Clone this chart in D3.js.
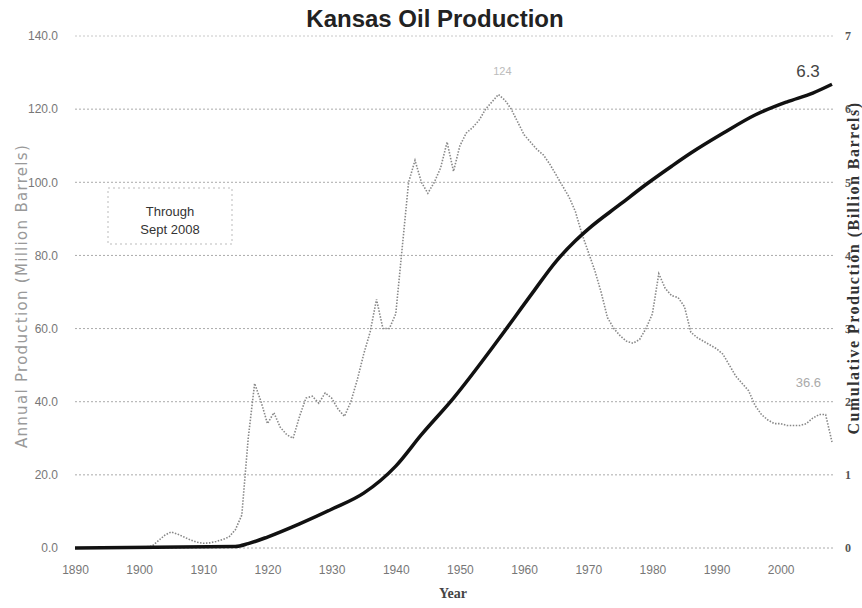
<!DOCTYPE html>
<html>
<head>
<meta charset="utf-8">
<script src="https://cdn.jsdelivr.net/npm/d3@7"></script>
<style>
  body { margin: 0; background: #fff; }
  svg { display: block; }
</style>
</head>
<body>
<svg id="chart" width="862" height="608"></svg>
<script>
// annual production, million barrels
var annualYears = [1890, 1900, 1902, 1904, 1905, 1906, 1907, 1908, 1909, 1910, 1911, 1912, 1913, 1914, 1915, 1916,
    1917, 1918, 1919, 1920, 1921, 1922, 1923, 1924, 1925, 1926, 1927, 1928, 1929, 1930, 1931, 1932, 1933, 1934,
    1935, 1936, 1937, 1938, 1939, 1940, 1941, 1942, 1943, 1944, 1945, 1946, 1947, 1948, 1949, 1950, 1951, 1952,
    1953, 1954, 1955, 1956, 1957, 1958, 1959, 1960, 1961, 1962, 1963, 1964, 1965, 1966, 1967, 1968, 1969, 1970,
    1971, 1972, 1973, 1974, 1975, 1976, 1977, 1978, 1979, 1980, 1981, 1982, 1983, 1984, 1985, 1986, 1987, 1988,
    1989, 1990, 1991, 1992, 1993, 1994, 1995, 1996, 1997, 1998, 1999, 2000, 2001, 2002, 2003, 2004, 2005, 2006,
    2007, 2008];
var annualValues = [0, 0.1, 0.5, 3.5, 4.4, 3.8, 3.0, 2.2, 1.6, 1.3, 1.4, 1.8, 2.3, 3.0, 5.0, 9.0,
    30, 45, 40, 34, 37, 33, 31, 30, 36, 41, 41.5, 39.6, 42.4, 41, 38, 36, 40, 46,
    53, 59, 68, 60, 60, 64, 82, 100, 106, 100, 97, 100, 104, 111, 103, 110, 113.5, 115,
    117, 120, 122, 124, 122.5, 120, 116.5, 113, 111, 109, 107.5, 105, 102, 99, 96, 92, 86, 81,
    76, 70, 63, 60, 58, 56.5, 56, 57, 60, 64, 75, 71, 69, 68.5, 66, 59, 57.5, 56.5,
    55.5, 54.5, 53, 50, 47, 45, 43, 39, 36.5, 35, 34, 34, 33.5, 33.5, 33.5, 34, 35.5, 36.5,
    36.5, 29];

// cumulative production, billion barrels
var cumYears = [1890, 1915, 1917, 1920, 1925, 1930, 1935, 1940, 1944, 1949, 1956, 1961, 1965, 1968, 1970,
    1975, 1979, 1983, 1986, 1991, 1996, 2001, 2005, 2008];
var cumValues = [0, 0.02, 0.06, 0.15, 0.33, 0.53, 0.75, 1.12, 1.55, 2.05, 2.85, 3.45, 3.92, 4.2, 4.36,
    4.7, 4.97, 5.22, 5.4, 5.67, 5.92, 6.1, 6.22, 6.34];

// tick labels
var xTicks = [1890, 1900, 1910, 1920, 1930, 1940, 1950, 1960, 1970, 1980, 1990, 2000];
var leftTicks = [0, 20, 40, 60, 80, 100, 120, 140];
var rightTicks = [0, 1, 2, 3, 4, 5, 6, 7];

var svg = d3.select("#chart");
var plotLeft = 75, plotRight = 833, plotTop = 36, plotBottom = 548;

var x = d3.scaleLinear().domain([1890, 2008]).range([plotLeft, plotRight - 1]);
var yL = d3.scaleLinear().domain([0, 140]).range([plotBottom, plotTop]);
var yR = d3.scaleLinear().domain([0, 7]).range([plotBottom, plotTop]);

// title
svg.append("text")
    .attr("x", 435)
    .attr("y", 27)
    .attr("text-anchor", "middle")
    .attr("font-family", "Liberation Sans, Arial, sans-serif")
    .attr("font-weight", "bold")
    .attr("font-size", 24)
    .attr("fill", "#222")
    .text("Kansas Oil Production");

// gridlines
svg.append("g").selectAll("line")
    .data(leftTicks)
    .enter().append("line")
    .attr("x1", plotLeft)
    .attr("x2", plotRight)
    .attr("y1", function (d) { return yL(d); })
    .attr("y2", function (d) { return yL(d); })
    .attr("stroke", function (d) { return d == 140 ? "#c8c8c8" : "#aaa"; })
    .attr("stroke-width", 1)
    .attr("stroke-dasharray", "2,2");

// left axis
svg.append("g")
    .attr("transform", "translate(" + (plotLeft - 14) + ",0)")
    .call(d3.axisLeft(yL).tickValues(leftTicks).tickSize(0).tickFormat(d3.format(".1f")))
    .call(function (g) { g.select(".domain").remove(); })
    .selectAll("text")
    .attr("font-family", "Liberation Sans, Arial, sans-serif")
    .attr("font-size", 12)
    .attr("fill", "#777");

// right axis
svg.append("g")
    .attr("transform", "translate(" + (plotRight + 9) + ",0)")
    .call(d3.axisRight(yR).tickValues(rightTicks).tickSize(0).tickFormat(d3.format("d")))
    .call(function (g) { g.select(".domain").remove(); })
    .selectAll("text")
    .attr("font-family", "Liberation Serif, serif")
    .attr("font-weight", "bold")
    .attr("font-size", 12)
    .attr("fill", "#555");

// bottom axis
svg.append("g")
    .attr("transform", "translate(0," + (plotBottom + 14) + ")")
    .call(d3.axisBottom(x).tickValues(xTicks).tickSize(0).tickFormat(d3.format("d")))
    .call(function (g) { g.select(".domain").remove(); })
    .selectAll("text")
    .attr("font-family", "Liberation Sans, Arial, sans-serif")
    .attr("font-size", 12)
    .attr("fill", "#777");

// axis titles
svg.append("text")
    .attr("transform", "translate(27,296)rotate(-90)")
    .attr("text-anchor", "middle")
    .attr("font-family", "DejaVu Sans, sans-serif")
    .attr("font-size", 15)
    .attr("letter-spacing", 1.3)
    .attr("fill", "#999")
    .text("Annual Production (Million Barrels)");

svg.append("text")
    .attr("transform", "translate(859,268)rotate(-90)")
    .attr("text-anchor", "middle")
    .attr("font-family", "Liberation Serif, serif")
    .attr("font-weight", "bold")
    .attr("font-size", 16)
    .attr("letter-spacing", 1.5)
    .attr("fill", "#333")
    .text("Cumulative Production (Billion Barrels)");

svg.append("text")
    .attr("x", 453)
    .attr("y", 598)
    .attr("text-anchor", "middle")
    .attr("font-family", "Liberation Serif, serif")
    .attr("font-weight", "bold")
    .attr("font-size", 14)
    .attr("fill", "#444")
    .text("Year");

// "through" note
svg.append("rect")
    .attr("x", 108).attr("y", 188)
    .attr("width", 124).attr("height", 56)
    .attr("fill", "none")
    .attr("stroke", "#bbb")
    .attr("stroke-dasharray", "2,3");

svg.append("text")
    .attr("x", 170).attr("y", 216)
    .attr("text-anchor", "middle")
    .attr("font-family", "Liberation Sans, Arial, sans-serif")
    .attr("font-size", 13)
    .attr("fill", "#333")
    .text("Through");

svg.append("text")
    .attr("x", 170).attr("y", 234)
    .attr("text-anchor", "middle")
    .attr("font-family", "Liberation Sans, Arial, sans-serif")
    .attr("font-size", 13)
    .attr("fill", "#333")
    .text("Sept 2008");

// annual production line (dotted grey)
var annualLine = d3.line()
    .x(function (d, i) { return x(annualYears[i]); })
    .y(function (d) { return yL(d); });

svg.append("path")
    .datum(annualValues)
    .attr("fill", "none")
    .attr("stroke", "#888")
    .attr("stroke-width", 1.6)
    .attr("stroke-dasharray", "1.5,1.5")
    .attr("d", annualLine);

// cumulative line (thick black)
var cumLine = d3.line()
    .curve(d3.curveMonotoneX)
    .x(function (d, i) { return x(cumYears[i]); })
    .y(function (d) { return yR(d); });

svg.append("path")
    .datum(cumValues)
    .attr("fill", "none")
    .attr("stroke", "#111")
    .attr("stroke-width", 3.5)
    .attr("d", cumLine);

// value labels
svg.append("text")
    .attr("x", x(2008) - 24).attr("y", yR(cumValues[cumValues.length - 1]) - 7)
    .attr("text-anchor", "middle")
    .attr("font-family", "Liberation Sans, Arial, sans-serif")
    .attr("font-size", 17)
    .attr("fill", "#444")
    .text("6.3");

svg.append("text")
    .attr("x", x(1956) + 4).attr("y", yL(124) - 20)
    .attr("text-anchor", "middle")
    .attr("font-family", "Liberation Sans, Arial, sans-serif")
    .attr("font-size", 11)
    .attr("fill", "#bbb")
    .text("124");

svg.append("text")
    .attr("x", x(2004) + 2).attr("y", yL(44))
    .attr("text-anchor", "middle")
    .attr("font-family", "Liberation Sans, Arial, sans-serif")
    .attr("font-size", 13)
    .attr("fill", "#aaa")
    .text("36.6");
</script>
</body>
</html>
